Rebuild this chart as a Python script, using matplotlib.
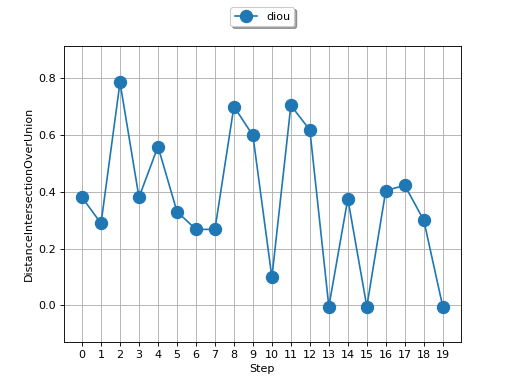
import numpy as np
import matplotlib
matplotlib.use('Agg')
import matplotlib.pyplot as plt

steps = list(range(20))
diou = [0.381, 0.289, 0.786, 0.381, 0.560, 0.331, 0.268, 0.268, 0.701, 0.599,
        0.099, 0.705, 0.618, -0.004, 0.376, -0.004, 0.405, 0.423, 0.300, -0.004]

fig = plt.figure(figsize=(6.4, 4.8), dpi=80)
ax = fig.add_subplot(111)
ax.plot(steps, diou, marker='o', markersize=11, label='diou')
ax.set_xticks(steps)
ax.set_ylim(-0.128, 0.914)
ax.set_xlabel('Step')
ax.set_ylabel('DistanceIntersectionOverUnion')
ax.grid(True)
ax.legend(loc='upper center', bbox_to_anchor=(0.5, 1.15), shadow=True)

plt.savefig('out.png', dpi=80)
